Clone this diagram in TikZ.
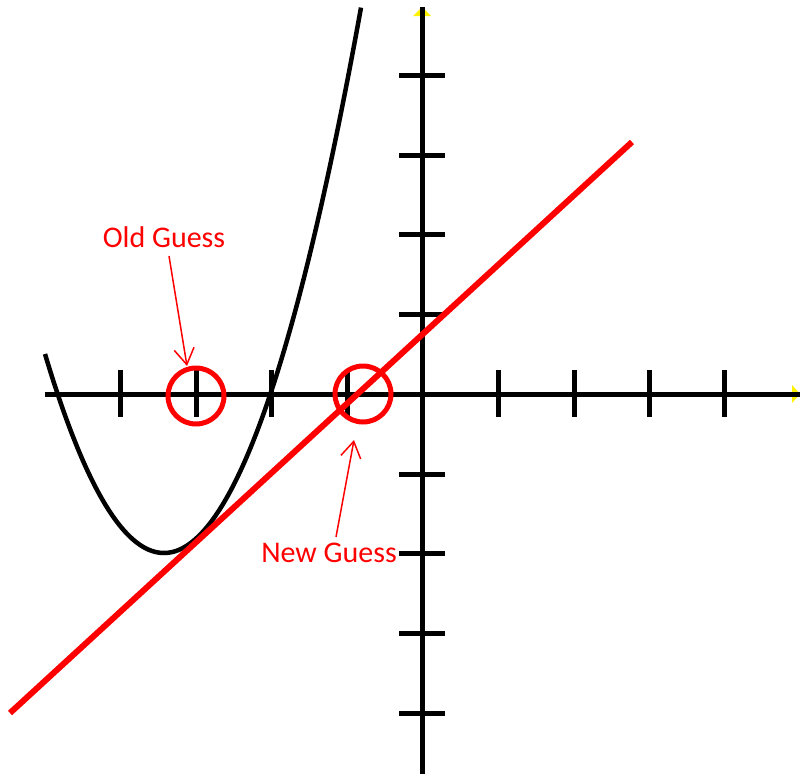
\documentclass[tikz,border=0pt]{standalone}
\usepackage{fontspec}
\setmainfont{Carlito}
\usetikzlibrary{arrows.meta}
\begin{document}
\begin{tikzpicture}[x=1pt,y=-1pt,
  axisline/.style={line width=5pt,black},
  tickmark/.style={line width=5pt,black},
  arrowtip/.style={fill=yellow,draw=none},
  curve/.style={line width=4.5pt,black},
  secant/.style={line width=6pt,red},
  guessring/.style={circle,draw=red,line width=5pt,minimum size=56pt,inner sep=0pt},
  pointer/.style={red,line width=1.5pt,-{Straight Barb[length=16pt,width=20pt,line width=1.5pt]}},
  lbl/.style={text=red,font=\fontsize{30}{36}\selectfont,inner sep=0pt}]
\useasboundingbox (0,0) rectangle (807,774);
% arrowheads (yellow)
\fill[arrowtip] (800,394) -- (792,385) -- (792,403) -- cycle;
\fill[arrowtip] (422,7) -- (413,16) -- (431,16) -- cycle;
% axes
\coordinate (xl) at (45,394);
\coordinate (xr) at (800,394);
\coordinate (yt) at (422,7);
\coordinate (yb) at (422,774);
\draw[axisline] (xl) -- (xr);
\draw[axisline] (yt) -- (yb);
% ticks
\foreach \x in {120,196,271,347,498,574,649,724}
  \draw[tickmark] (\x,370) -- (\x,417);
\foreach \y in {75,155,234,314,474,553,633,713}
  \draw[tickmark] (399,\y) -- (445,\y);
% parabola
\draw[curve] plot[domain=45:361,samples=120,smooth] (\x,{553-0.01406*(\x-164)*(\x-164)});
% tangent line
\coordinate (la) at (10,713);
\coordinate (lb) at (632,142);
\draw[secant] (la) -- (lb);
% circles
\node[guessring] (old) at (196,396) {};
\node[guessring] (new) at (363,394) {};
% labels
\node[lbl] (oldtxt) at (164,237) {Old Guess};
\node[lbl] (newtxt) at (329,553) {New Guess};
\coordinate (oldstart) at (169,256);
\coordinate (oldtip) at (187,366);
\coordinate (newstart) at (336,537);
\coordinate (newtip) at (354,440);
\draw[pointer] (oldstart) -- (oldtip);
\draw[pointer] (newstart) -- (newtip);
\end{tikzpicture}
\end{document}
